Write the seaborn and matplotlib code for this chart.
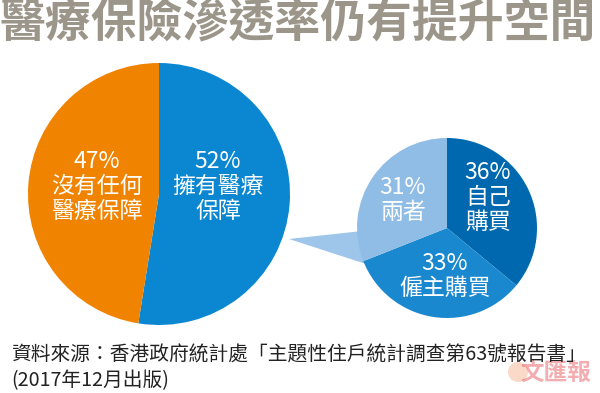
import matplotlib
matplotlib.use("Agg")
import matplotlib.pyplot as plt
import seaborn as sns
from matplotlib.patches import Polygon, Circle

sns.set_theme(style="white")
plt.rcParams['font.family'] = ['Noto Sans CJK TC', 'DejaVu Sans']

# ---- data ----
title = "醫療保險滲透率仍有提升空間"
main_labels = ["擁有醫療\n保障", "沒有任何\n醫療保障"]
main_values = [52, 47]
main_colors = ["#0A87D0", "#F08300"]

sub_labels = ["自己\n購買", "僱主購買", "兩者"]
sub_values = [36, 33, 31]
sub_colors = ["#0068AE", "#1A88CF", "#8FBDE5"]

source_line1 = "資料來源：香港政府統計處「主題性住戶統計調查第63號報告書」"
source_line2 = "(2017年12月出版)"

W, H = 600, 393
fig = plt.figure(figsize=(W / 100, H / 100), dpi=100)
ax = fig.add_axes([0, 0, 1, 1])

def Y(y):
    return H - y

# connector
ax.add_patch(Polygon([(289, Y(239)), (362, Y(231)), (366, Y(264))],
                     closed=True, facecolor="#9EC6EA", edgecolor="none", zorder=1))

# main pie
ax.pie(main_values, colors=main_colors, startangle=90, counterclock=False,
       center=(159, Y(194)), radius=131, frame=True,
       wedgeprops=dict(linewidth=0, zorder=2))
# sub pie
ax.pie(sub_values, colors=sub_colors, startangle=90, counterclock=False,
       center=(447, Y(228)), radius=90, frame=True,
       wedgeprops=dict(linewidth=0, zorder=2))
ax.set_xlim(0, W)
ax.set_ylim(0, H)
ax.set_aspect("equal")
ax.axis("off")

fs = 16.5
main_pos = [(218, 150), (97, 150)]
for (x, y), v, lab in zip(main_pos, main_values, main_labels):
    ax.text(x, Y(y), f"{v}%\n{lab}", color="white", fontsize=fs, ha="center",
            va="top", linespacing=1.12, zorder=5)

sub_pos = [(488, 161), (445, 252), (403, 176)]
for (x, y), v, lab in zip(sub_pos, sub_values, sub_labels):
    ax.text(x, Y(y), f"{v}%\n{lab}", color="white", fontsize=fs, ha="center",
            va="top", linespacing=1.12, zorder=5)

# title
ax.text(0, Y(23), title, color="#9C968A", fontsize=33, fontweight="bold",
        ha="left", va="center")

# watermark
ax.add_patch(Circle((518, Y(372)), 10, facecolor="#F4A07A", alpha=0.4,
                    edgecolor="none", zorder=0))
ax.text(556, Y(373), "文匯報", color="#E2343A", alpha=0.4, fontsize=17,
        fontweight="bold", ha="center", va="center", zorder=0)

# source
ax.text(11, Y(355), source_line1, color="#222222", fontsize=14.2, ha="left",
        va="center", zorder=6)
ax.text(11, Y(381), source_line2, color="#222222", fontsize=14.2, ha="left",
        va="center", zorder=6)

fig.savefig("out.png", dpi=100)
